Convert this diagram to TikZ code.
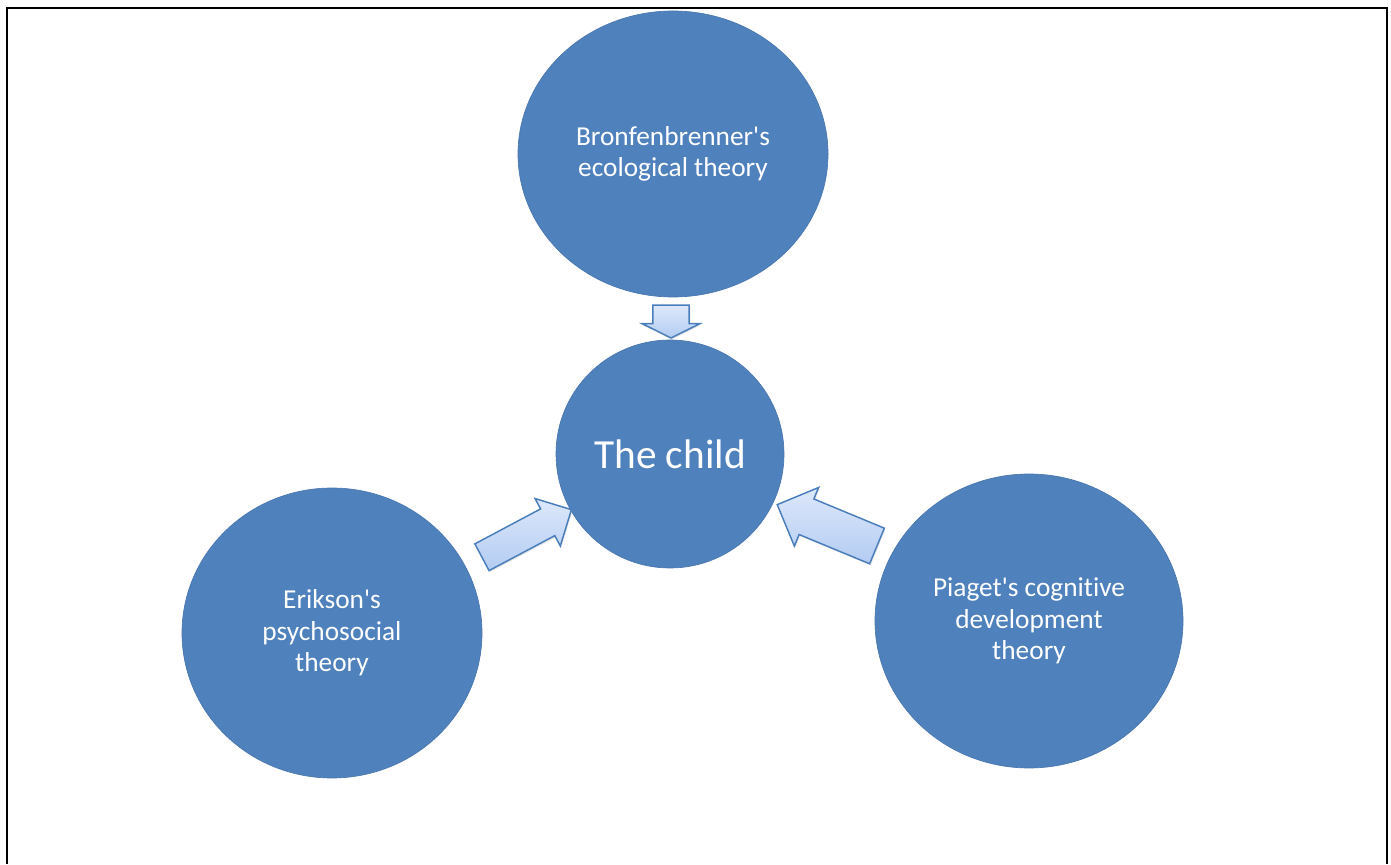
\documentclass[tikz,border=0pt]{standalone}
\usepackage{fontspec}
\setmainfont{Carlito}[Ligatures=NoCommon]
\usepackage{tikz}
\usetikzlibrary{shapes.geometric,shapes.arrows,shadows}
\definecolor{theoryblue}{HTML}{4F81BD}
\definecolor{arrowedge}{HTML}{4A7EBB}
\definecolor{arrowlight}{HTML}{DDE8FB}
\definecolor{arrowdark}{HTML}{B3CCF2}
\tikzset{theory/.style={ellipse, fill=theoryblue, draw=theoryblue!92!black, line width=0.5pt, text=white, align=center, inner sep=0pt, font=\fontsize{20.5}{23.5}\selectfont},
%the block arrows: shaft set by inner ysep, length by minimum height
blockarrow/.style={single arrow, draw=arrowedge, line width=1.1pt, top color=arrowlight, bottom color=arrowdark, inner xsep=0pt, minimum width=0pt, drop shadow={opacity=0.2, shadow xshift=0.8pt, shadow yshift=-1.2pt}}}

\begin{document}
\begin{tikzpicture}[x=0.75pt,y=0.75pt]
		\useasboundingbox (0,0) rectangle (1391,864);
		\draw[black,line width=2.2pt]
		(7,0) -- (7,856) -- (1387,856) -- (1387,0)
		;

		\node[theory, minimum width=232.5pt, minimum height=214.5pt] (bron) at (673,710) {Bronfenbrenner\textquotesingle s\\ecological theory};
		\node[theory, minimum width=171pt, minimum height=171pt, font=\fontsize{31}{36}\selectfont] (child) at (670,410) {The child};
		\node[theory, minimum width=225pt, minimum height=217.5pt] (erik) at (332,231) {Erikson\textquotesingle s\\psychosocial\\theory};
		\node[theory, minimum width=231pt, minimum height=220.5pt] (piaget) at (1029,243) {Piaget\textquotesingle s cognitive\\development\\theory};

		\node[blockarrow, rotate=-90, inner ysep=13.1pt, single arrow head extend=7.9pt, single arrow tip angle=127, minimum height=24.75pt] (bronarrow) at (671,547) {};
		\node[blockarrow, rotate=28, inner ysep=10.8pt, single arrow head extend=8.8pt, minimum height=76pt] (erikarrow) at (520,327) {};
		\node[blockarrow, rotate=157.5, inner ysep=13.9pt, single arrow head extend=9.3pt, minimum height=81pt] (piagetarrow) at (836,335) {};

	\end{tikzpicture}
\end{document}
